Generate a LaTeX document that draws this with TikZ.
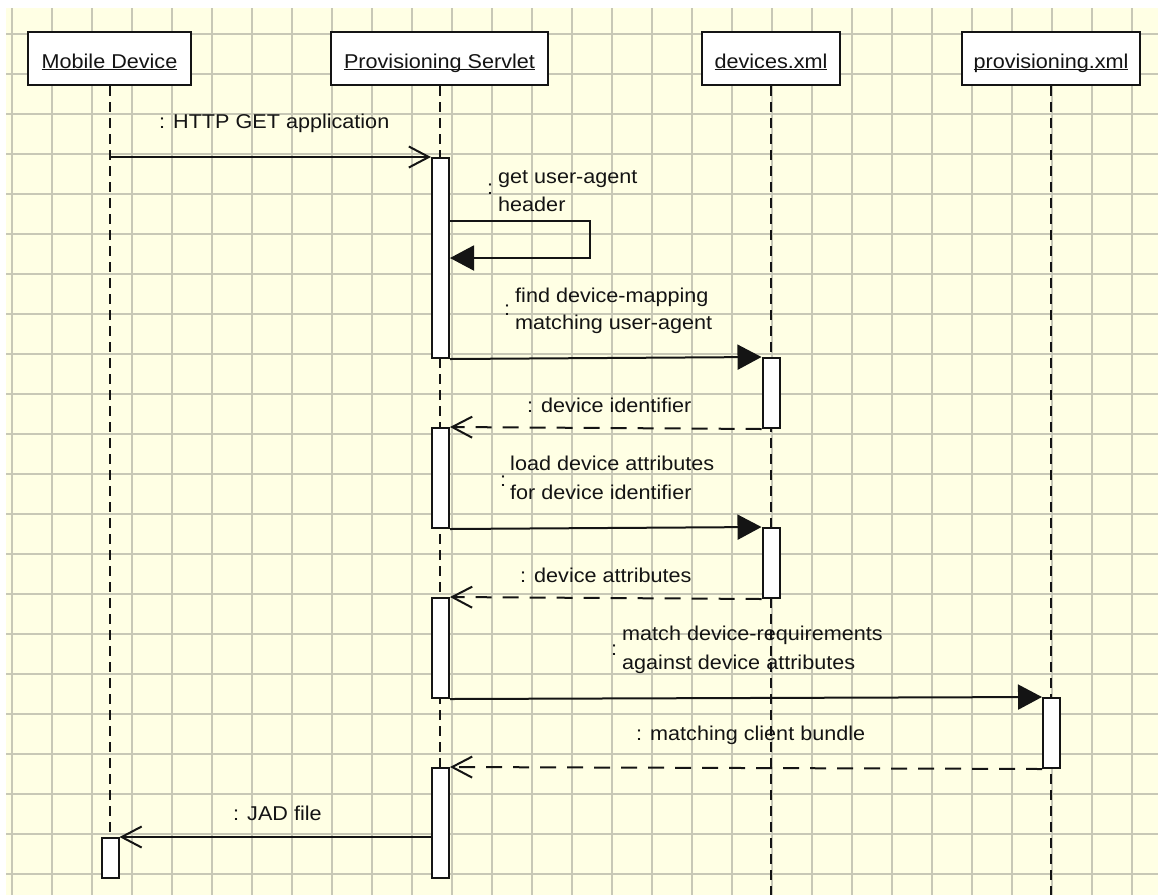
\documentclass[tikz,border=0pt]{standalone}
\usepackage{fontspec}
\setmainfont{Liberation Sans}[FakeStretch=1.08]
\usetikzlibrary{arrows.meta}
\definecolor{gridbg}{RGB}{255,255,228}
\definecolor{gridln}{RGB}{200,200,182}
\definecolor{ink}{RGB}{20,20,20}
\newcommand{\lifename}[1]{\underline{\smash{#1}}}
\begin{document}
\begin{tikzpicture}[x=1pt,y=-1pt,
  every node/.style={font=\fontsize{20}{29}\selectfont, text=ink},
  header/.style={draw=ink, line width=2.2pt, fill=white, inner sep=0pt, text height=36pt, text depth=17pt, anchor=base},
  act/.style={draw=ink, line width=2pt, fill=white, minimum width=17pt, inner sep=0pt, anchor=north},
  lifeline/.style={draw=ink, line width=2pt, dash pattern=on 10pt off 6pt},
  msg/.style={draw=ink, line width=2pt},
  ret/.style={msg, dash pattern=on 16pt off 11pt},
  open/.style={-{Straight Barb[length=20pt,width=21pt,line width=2pt]}},
  filled/.style={-{Triangle[length=24pt,width=25pt]}},
  lbl/.style={anchor=base west, inner sep=0pt},
  colon/.style={anchor=center, inner sep=0pt},
  gridline/.style={draw=gridln, line width=1.3pt}
]
\fill[white] (0,0) rectangle (1158,895);
\useasboundingbox (0,0) rectangle (1158,895);
\fill[gridbg] (6,8) rectangle (1158,895);
\foreach \x in {12,52,...,1132} \draw[gridline] (\x,8) -- (\x,895);
\foreach \y in {34,74,...,874} \draw[gridline] (6,\y) -- (1158,\y);

% headers
\node[header, minimum width=163pt] (md) at (109.5,68) {\lifename{Mobile Device}};
\node[header, minimum width=217pt] (ps) at (439.5,68) {\lifename{Provisioning Servlet}};
\node[header, minimum width=138pt] (dx) at (771,68) {\lifename{devices.xml}};
\node[header, minimum width=178pt] (px) at (1051,68) {\lifename{provisioning.xml}};

% lifeline ends
\coordinate (mdEnd) at (109.5,837);
\coordinate (psEnd) at (439.5,877);
\coordinate (dxEnd) at (771,895);
\coordinate (pxEnd) at (1051,895);
\draw[lifeline] (md.south) -- (mdEnd);
\draw[lifeline] (ps.south) -- (psEnd);
\draw[lifeline] (dx.south) -- (dxEnd);
\draw[lifeline] (px.south) -- (pxEnd);

% activations
\node[act, minimum height=200pt] (a1) at (440.5,157) {};
\node[act, minimum height=100pt] (a2) at (440.5,427) {};
\node[act, minimum height=100pt] (a3) at (440.5,597) {};
\node[act, minimum height=110pt] (a4) at (440.5,767) {};
\node[act, minimum height=70pt] (d1) at (771,357) {};
\node[act, minimum height=70pt] (d2) at (771,527) {};
\node[act, minimum height=70pt] (p1) at (1051.5,697) {};
\node[act, minimum height=40pt] (aM) at (110,837) {};

% messages
\draw[msg, open] (md.south |- a1.north) -- (a1.north west);
\coordinate (s1) at (590,221);
\coordinate (s2) at (590,258);
\draw[msg, filled] (a1.east |- s1) -- (s1) -- (s2) -- (a1.east |- s2);
\draw[msg, filled] (a1.south east) -- (d1.north west);
\draw[ret, open] (d1.south west) -- (a2.north east);
\draw[msg, filled] (a2.south east) -- (d2.north west);
\draw[ret, open] (d2.south west) -- (a3.north east);
\draw[msg, filled] (a3.south east) -- (p1.north west);
\draw[ret, open] (p1.south west) -- (a4.north east);
\draw[msg, open] (a4.west |- aM.north) -- (aM.north east);

% labels
\node[lbl] (t1) at (159,128) {: HTTP GET application};
\node[colon] (c2) at (490,189) {:};
\node[lbl] (t2a) at (498,183) {get user-agent};
\node[lbl] (t2b) at (498,211) {header};
\node[colon] (c3) at (507,310) {:};
\node[lbl] (t3a) at (515,302) {find device-mapping};
\node[lbl] (t3b) at (515,329) {matching user-agent};
\node[lbl] (t4) at (527,412) {: device identifier};
\node[colon] (c5) at (503,481) {:};
\node[lbl] (t5a) at (510,470) {load device attributes};
\node[lbl] (t5b) at (510,499) {for device identifier};
\node[lbl] (t6) at (520,582) {: device attributes};
\node[colon] (c7) at (614,650) {:};
\node[lbl] (t7a) at (622,640) {match device-requirements};
\node[lbl] (t7b) at (622,669) {against device attributes};
\node[lbl] (t8) at (636,740) {: matching client bundle};
\node[lbl] (t9) at (233,820) {: JAD file};
\end{tikzpicture}
\end{document}
